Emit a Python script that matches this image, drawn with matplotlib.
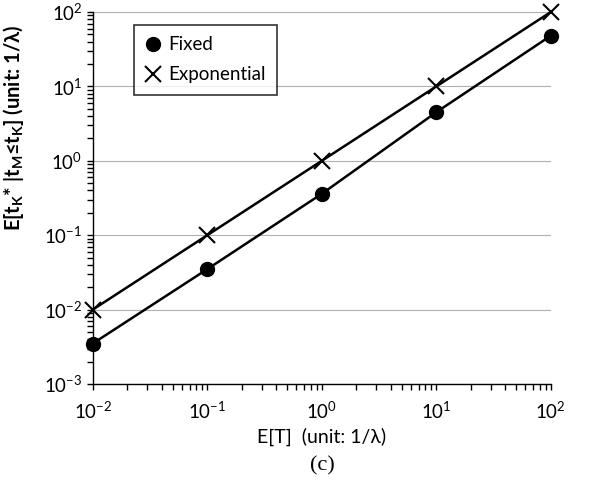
import math
import matplotlib
matplotlib.use("Agg")
import matplotlib.pyplot as plt
from matplotlib.ticker import FuncFormatter, LogLocator, NullFormatter

plt.rcParams["font.family"] = ["Lato", "DejaVu Sans"]
plt.rcParams["mathtext.default"] = "regular"

mean_t = [0.01, 0.1, 1, 10, 100]
fixed = [0.0035, 0.035, 0.36, 4.5, 48]
exponential = [0.01, 0.1, 1, 10, 100]


def pow10(v, pos):
    return r"10$^{%d}$" % round(math.log10(v))


fig = plt.figure(figsize=(5.91, 4.80), dpi=100)
ax = fig.add_axes([0.157, 0.2, 0.775, 0.775])

ax.plot(mean_t, fixed, color="black", lw=1.8, marker="o", ms=10,
        label="Fixed", clip_on=False)
ax.plot(mean_t, exponential, color="black", lw=1.8, marker="x", ms=11,
        mew=1.5, label="Exponential", clip_on=False)

ax.set_xscale("log")
ax.set_yscale("log")
ax.set_xlim(0.01, 100)
ax.set_ylim(0.001, 100)

for a in (ax.xaxis, ax.yaxis):
    a.set_major_locator(LogLocator(base=10))
    a.set_minor_locator(LogLocator(base=10, subs=range(2, 10)))
    a.set_major_formatter(FuncFormatter(pow10))
    a.set_minor_formatter(NullFormatter())

ax.tick_params(which="both", direction="out", length=4, width=1, labelsize=13.5)
ax.tick_params(axis="x", pad=8)
ax.grid(axis="y", which="major", color="#b0b0b0", lw=0.8)
ax.set_axisbelow(True)
for s in ("top", "right"):
    ax.spines[s].set_visible(False)
for s in ("left", "bottom"):
    ax.spines[s].set_linewidth(1)

ax.set_xlabel("E[T]  (unit: 1/λ)", fontsize=14, labelpad=4)
ax.set_ylabel(r"E[t$_K$* |t$_M$≤t$_K$] (unit: 1/λ)", fontsize=14.5,
              fontweight="bold")
ax.yaxis.set_label_coords(-0.145, 0.69)

leg = ax.legend(loc="upper left", bbox_to_anchor=(0.07, 0.99), fontsize=13.5,
                frameon=True, fancybox=False, edgecolor="black",
                handlelength=0.8, handletextpad=0.4, borderpad=0.6,
                labelspacing=0.7)
leg.get_frame().set_linewidth(1.2)
for h in leg.legend_handles:
    h.set_linestyle("none")

fig.text(0.545, 0.02, "(c)", fontsize=16, family="Liberation Serif",
         ha="center")

fig.savefig("out.png", dpi=100)
